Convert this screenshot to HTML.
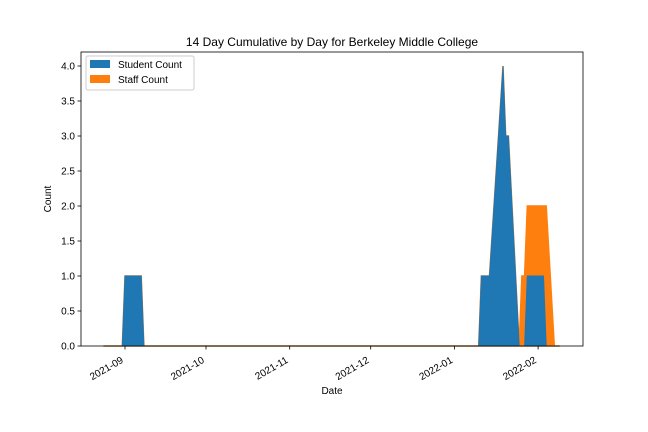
<!DOCTYPE html>
<html><head><meta charset="utf-8"><style>
body{margin:0;background:#fff}
svg{display:block;font-family:"Liberation Sans",sans-serif}
</style></head><body>
<svg id="c" width="648" height="432">
<rect width="648" height="432" fill="#fff"/>
<text x="332" y="46" text-anchor="middle" font-size="12">14 Day Cumulative by Day for Berkeley Middle College</text>
<g id="plot"></g>
<text x="332" y="394" text-anchor="middle" font-size="10">Date</text>
<text transform="translate(51,199) rotate(-90)" text-anchor="middle" font-size="10">Count</text>
<g>
<rect x="86" y="56" width="108" height="34" fill="#fff" stroke="#ccc" rx="2"/>
<rect x="90" y="60" width="20" height="8" fill="#1f77b4"/>
<text x="118" y="68" font-size="10">Student Count</text>
<rect x="90" y="75" width="20" height="8" fill="#ff7f0e"/>
<text x="118" y="83" font-size="10">Staff Count</text>
</g>
</svg>
<script>
// days since 2021-09-01
const days = [-8,-1,0,6,7,131,132,135,140,141,142,146,147,148,149,155,156,159,161];
const studentCounts = [0,0,1,1,0,0,1,1,4,3,3,0,0,0,1,1,0,0,0];
const staffCounts   = [0,0,0,0,0,0,0,0,0,0,0,0,1,1,1,1,2,0,0];
const yTicks = [0,0.5,1,1.5,2,2.5,3,3.5,4];
const xTickDays = [0,30,61,91,122,153];
const xTickLabels = ["2021-09","2021-10","2021-11","2021-12","2022-01","2022-02"];
const L=81,R=583,T=52,B=346;
const x=d=>125+d*2.7;
const y=v=>B-(v/4.2)*(B-T);
const NS="http://www.w3.org/2000/svg";
const g=document.getElementById('plot');
function mk(t,a){const e=document.createElementNS(NS,t);for(const k in a)e.setAttribute(k,a[k]);g.appendChild(e);return e;}
const tot=studentCounts.map((s,i)=>s+staffCounts[i]);
const top2=days.map((d,i)=>x(d)+','+y(tot[i])).join(' ');
const top1=days.map((d,i)=>x(d)+','+y(studentCounts[i])).join(' ');
const base1=days.slice().reverse().map(d=>x(d)+','+y(0)).join(' ');
let e=mk('polygon',{points:top2+' '+base1,fill:'#ff7f0e',stroke:'#ff7f0e','stroke-width':1.5});


e=mk('polygon',{points:top1+' '+base1,fill:'#1f77b4',stroke:'#1f77b4','stroke-width':1});


e=mk('rect',{x:L,y:T,width:R-L,height:B-T,fill:'none',stroke:'#000','stroke-width':0.8});


yTicks.forEach(v=>{
  mk('line',{x1:L-3.5,x2:L,y1:y(v),y2:y(v),stroke:'#000','stroke-width':0.8});
  const t=mk('text',{x:L-6,y:y(v)+3.5,'text-anchor':'end','font-size':10});
  t.textContent=v.toFixed(1);
  
  
});
xTickDays.forEach((d,i)=>{
  mk('line',{x1:x(d),x2:x(d),y1:B,y2:B+3.5,stroke:'#000','stroke-width':0.8});
  const t=mk('text',{transform:`translate(${x(d)-1},${B+16}) rotate(-30)`,'text-anchor':'end','font-size':10});
  t.textContent=xTickLabels[i];
  
  
});
</script>
</body></html>
